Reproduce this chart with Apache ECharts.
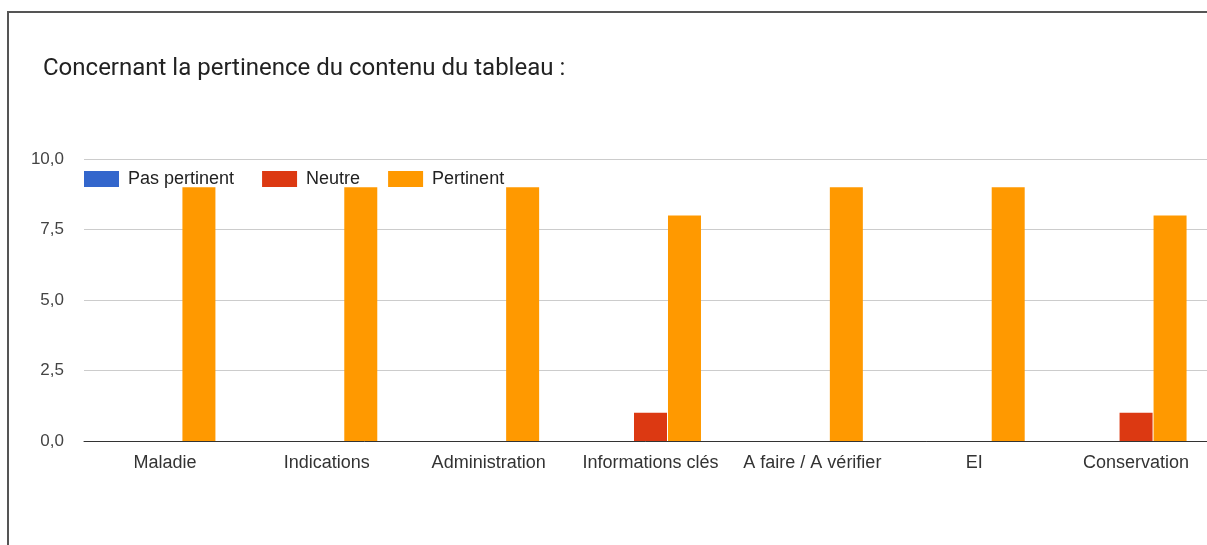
<!DOCTYPE html>
<html>
<head>
<meta charset="utf-8">
<script src="https://cdn.jsdelivr.net/npm/echarts@6/dist/echarts.min.js"></script>
<style>
  html, body { margin: 0; padding: 0; background: #fff; overflow: hidden; }
  #chart { width: 1207px; height: 545px; }
  .frame { position: absolute; left: 7px; top: 11px; width: 1300px; height: 600px; border-left: 2px solid #555; border-top: 2px solid #555; pointer-events: none; }
</style>
</head>
<body>
<div id="chart"></div>
<div class="frame"></div>
<script>
const categories = ['Maladie', 'Indications', 'Administration', 'Informations clés', 'A faire / A vérifier', 'EI', 'Conservation']
const pasPertinent = [0, 0, 0, 0, 0, 0, 0]
const neutre = [0, 0, 0, 1, 0, 0, 1]
const pertinent = [9, 9, 9, 8, 9, 9, 8]

const chart = echarts.init(document.getElementById('chart'))

function bar(name, data, color) {
  return {
    name: name,
    type: 'bar',
    data: data,
    barWidth: 33,
    barGap: '3%',
    itemStyle: {
      color: color
    }
  }
}

chart.setOption({
  animation: false,
  title: {
    text: 'Concernant la pertinence du contenu du tableau :',
    left: 43,
    top: 57,
    padding: 0,
    textStyle: {
      fontFamily: 'Roboto',
      fontSize: 24,
      fontWeight: 'normal',
      color: '#222'
    }
  },
  legend: {
    left: 84,
    top: 170,
    padding: 0,
    itemWidth: 35,
    itemHeight: 16,
    itemGap: 28,
    icon: 'rect',
    textStyle: {
      fontFamily: 'Liberation Sans',
      fontSize: 18,
      color: '#222',
      padding: [0, 0, 0, 4]
    },
    data: ['Pas pertinent', 'Neutre', 'Pertinent']
  },
  grid: {
    left: 84,
    top: 159,
    width: 1133,
    height: 282,
    outerBoundsMode: 'none'
  },
  xAxis: {
    type: 'category',
    data: categories,
    axisTick: { show: false },
    axisLine: { lineStyle: { color: '#333', width: 1 } },
    axisLabel: {
      fontFamily: 'Liberation Sans',
      fontSize: 18,
      color: '#333',
      margin: 13,
      interval: 0
    }
  },
  yAxis: {
    type: 'value',
    min: 0,
    max: 10,
    interval: 2.5,
    axisLine: { show: false },
    axisTick: { show: false },
    splitLine: { lineStyle: { color: '#ccc' } },
    axisLabel: {
      fontFamily: 'Liberation Sans',
      fontSize: 17,
      color: '#444',
      margin: 20,
      formatter: function (v) { return v.toFixed(1).replace('.', ',') }
    }
  },
  series: [
    bar('Pas pertinent', pasPertinent, '#3366cc'),
    bar('Neutre', neutre, '#dc3912'),
    bar('Pertinent', pertinent, '#ff9900')
  ]
})
</script>
</body>
</html>
